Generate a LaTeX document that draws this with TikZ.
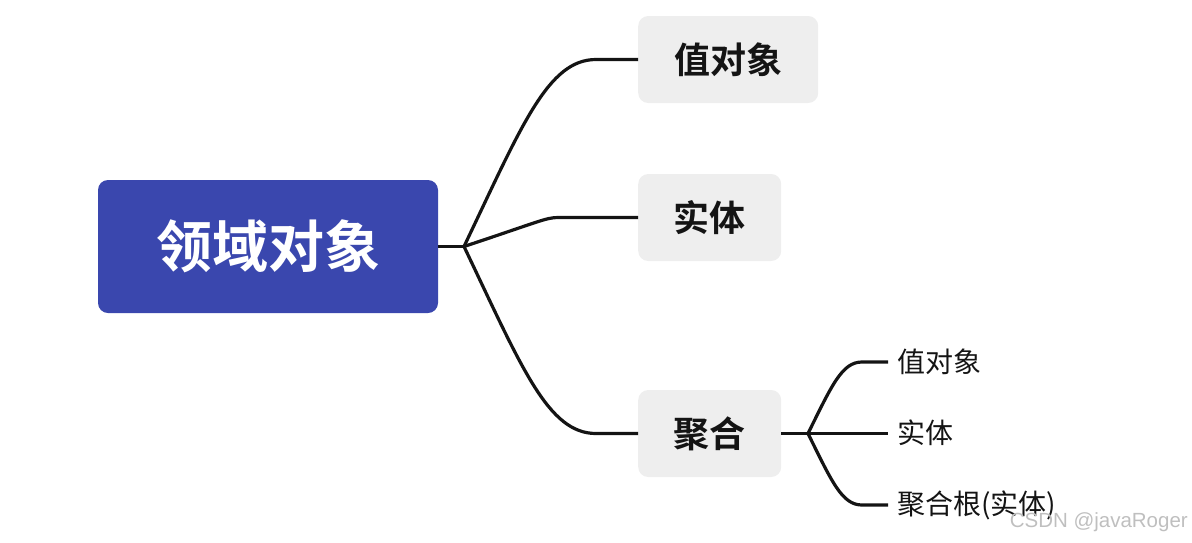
\documentclass[tikz,border=0pt]{standalone}
\usepackage{fontspec}
\setmainfont{Noto Sans CJK SC}[BoldFont={Noto Sans CJK SC Bold}]
\newfontfamily\marksans{Liberation Sans}
\definecolor{rootblue}{HTML}{3A47AE}
\definecolor{boxgray}{HTML}{EEEEEE}
\definecolor{inkdark}{HTML}{141414}

\begin{document}
\begin{tikzpicture}[x=1pt, y=-1pt,
  rootbox/.style = {fill=rootblue, text=white, rounded corners=10pt, minimum width=340pt, minimum height=133pt, font=\fontsize{56}{60}\selectfont\bfseries},
  childbox/.style = {fill=boxgray, text=inkdark, rounded corners=10pt, minimum height=87pt, anchor=west, font=\fontsize{36}{40}\selectfont\bfseries},
  leaf/.style = {text=inkdark, inner sep=0pt, anchor=west, font=\fontsize{28}{32}\selectfont},
  branch/.style = {draw=inkdark, line width=3.2pt},]

\useasboundingbox (0,0) rectangle (1192,542);

\node[rootbox] (root) at (268,246.5) {领域对象};
\node[childbox, minimum width=180pt] (value) at (638,59.5) {值对象};
\node[childbox, minimum width=143pt] (entity) at (638,217.5) {实体};
\node[childbox, minimum width=143pt] (aggr) at (638,433.5) {聚合};

\node[leaf] (svalue) at (897,362) {值对象};
\node[leaf] (sentity) at (897,433) {实体};
\node[leaf] (sroot) at (897,505) {聚合根(实体)};

\coordinate (J) at (464,246.5);
\coordinate (K) at (808,433.5);

\draw[branch] (root.east) -- (J);
\draw[branch] (J) .. controls (522,125) and (548,59.5) .. (596,59.5) -- (value.west);
\draw[branch] (J) .. controls (538,222) and (546,217.5) .. (558,217.5) -- (entity.west);
\draw[branch] (J) .. controls (522,368) and (548,433.5) .. (596,433.5) -- (aggr.west);

\draw[branch] (aggr.east) -- (K);
\draw[branch] (K) .. controls (832,385) and (842,362) .. (862,362) -- (888,362);
\draw[branch] (K) -- (888,433.5);
\draw[branch] (K) .. controls (832,482) and (842,505) .. (862,505) -- (888,505);

\node[text=gray!50, inner sep=0pt, anchor=east, font=\marksans\fontsize{20.5}{24}\selectfont] (mark) at (1188,522) {CSDN @javaRoger};

\end{tikzpicture}
\end{document}
